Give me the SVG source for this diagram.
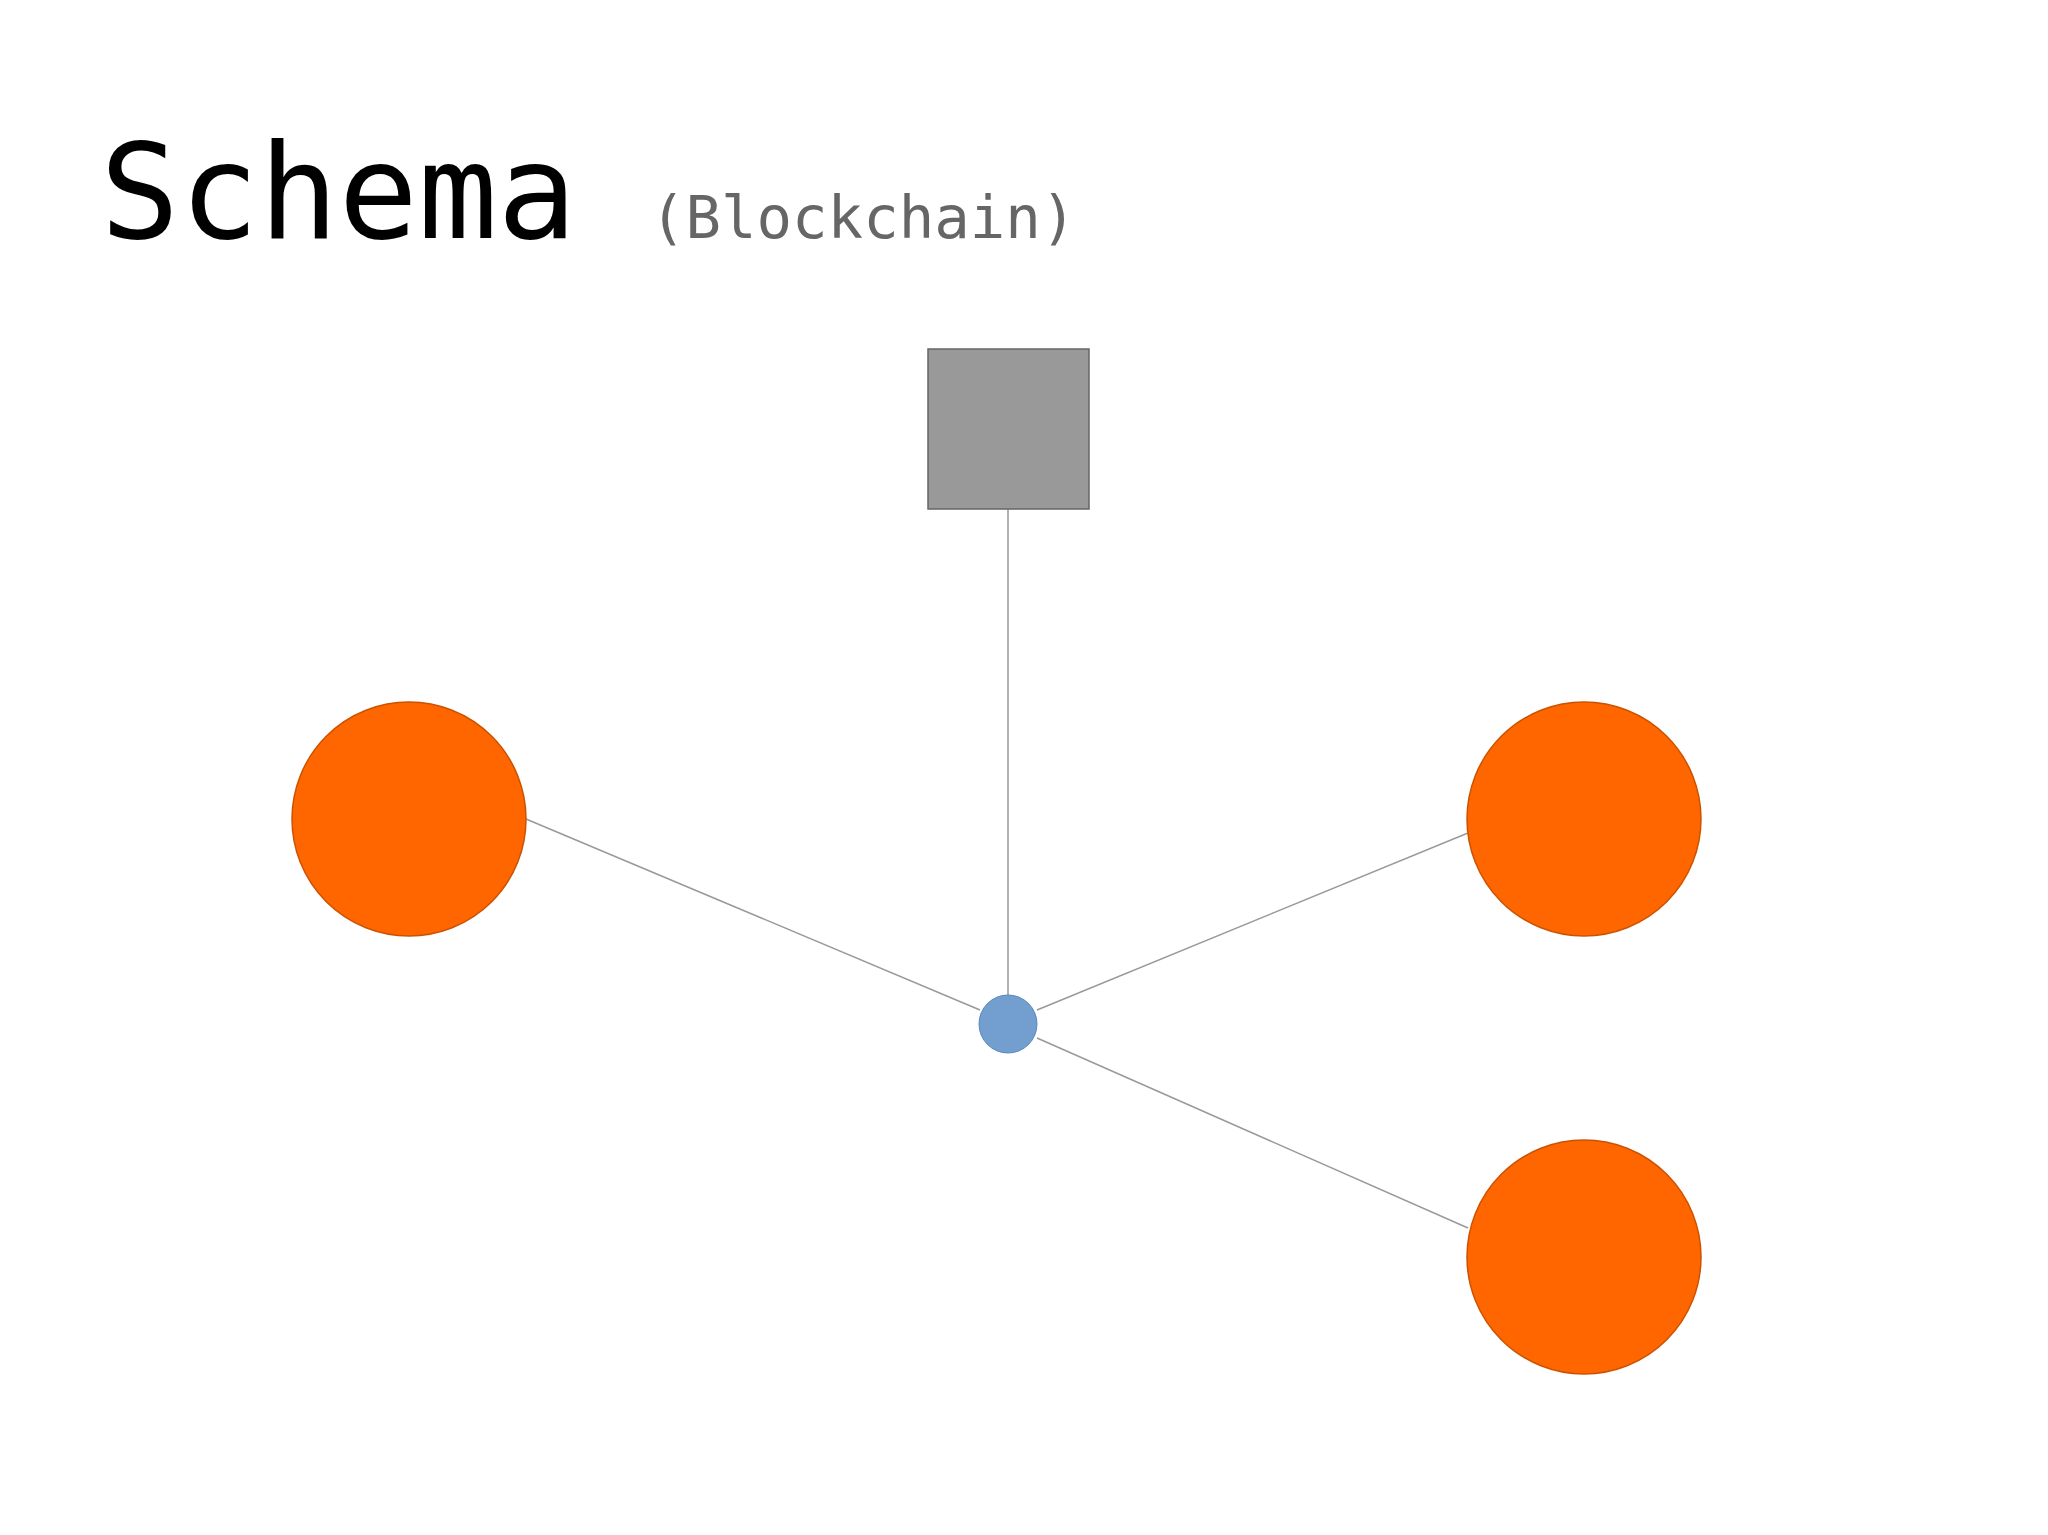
<svg xmlns="http://www.w3.org/2000/svg" width="2048" height="1535" viewBox="0 0 2048 1535">
<style>
.t{font-family:"DejaVu Sans Mono",monospace}
.n{fill:#ff6600;stroke:#cc5200;stroke-width:1.5}
.e{stroke:#999;stroke-width:1.5;fill:none}
</style>
<rect width="2048" height="1535" fill="#fff"/>
<g id="title">
<text class="t" x="100" y="238" font-size="132" fill="#000">Schema</text>
<text class="t" x="650" y="238" font-size="59" fill="#666">(Blockchain)</text>
</g>
<g id="connectors">
<line class="e" x1="1008" y1="509" x2="1008" y2="995"/>
<line class="e" x1="526" y1="819" x2="980" y2="1010"/>
<line class="e" x1="1468" y1="833" x2="1037" y2="1010"/>
<line class="e" x1="1468" y1="1228" x2="1037" y2="1038"/>
</g>
<g id="block"><rect x="928" y="349" width="161" height="160" fill="#999" stroke="#666" stroke-width="1.5"/></g>
<g id="nodeLeft"><circle class="n" cx="409" cy="819" r="117"/></g>
<g id="nodeRight"><circle class="n" cx="1584" cy="819" r="117"/></g>
<g id="nodeBottom"><circle class="n" cx="1584" cy="1257" r="117"/></g>
<g id="hub"><circle cx="1008" cy="1024" r="29" fill="#729fcf" stroke="#5a86b8" stroke-width="1"/></g>
</svg>
